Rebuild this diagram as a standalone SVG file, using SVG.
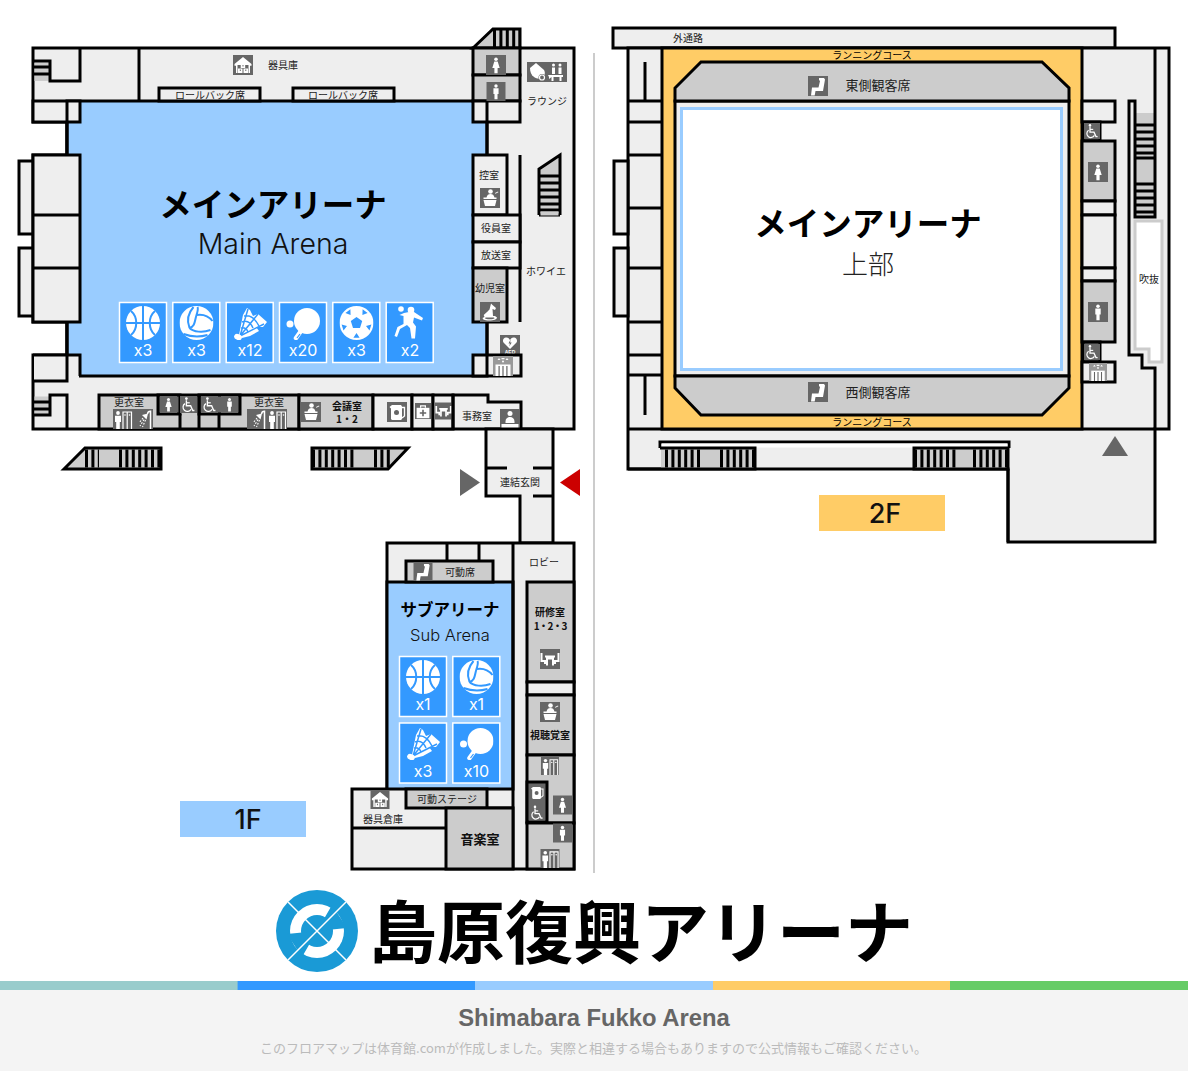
<svg xmlns="http://www.w3.org/2000/svg" width="1188" height="1071" viewBox="0 0 1188 1071">
<style>
.w{fill:none;stroke:#000;stroke-width:3}
.f{fill:#eee;stroke:#000;stroke-width:3}
.g{fill:#ccc;stroke:#000;stroke-width:3}
.d{fill:#666;stroke:#000;stroke-width:3}
.b{fill:#9cf;stroke:#000;stroke-width:3}
.y{fill:#fc6;stroke:#000;stroke-width:3}
.bar{fill:none;stroke:#000;stroke-width:18;stroke-dasharray:3 3.4}
.t{font-family:"Noto Sans CJK JP",sans-serif;font-size:10px;fill:#222;text-anchor:middle}
.tb{font-family:"Noto Sans CJK JP",sans-serif;font-size:10px;font-weight:700;fill:#111;text-anchor:middle}
.h{font-family:"Noto Sans CJK JP",sans-serif;font-weight:700;fill:#000;text-anchor:middle}
.l{font-family:Inter,sans-serif;font-weight:300;fill:#111;text-anchor:middle}
.n{font-family:Inter,sans-serif;font-size:16px;font-weight:400;fill:#fff;text-anchor:middle}
.fl{font-family:Inter,sans-serif;font-size:27px;font-weight:500;fill:#111;text-anchor:middle}
.tile{fill:#39f;stroke:#fff;stroke-width:1.5}
.wh{fill:#fff}
.ws{fill:none;stroke:#fff}
.bg{fill:#666}
.bl{fill:none;stroke:#39f;stroke-width:2}
</style>
<defs>
<symbol id="i-m" viewBox="0 0 20 20"><rect class="bg" width="20" height="20"/><circle class="wh" cx="10" cy="4.2" r="1.8"/><path class="wh" d="M7.3 6.6h5.4v6h-1.1v5.6h-3.200v-5.600H7.300z"/></symbol>
<symbol id="i-f" viewBox="0 0 20 20"><rect class="bg" width="20" height="20"/><circle class="wh" cx="10" cy="4.2" r="1.8"/><path class="wh" d="M8.300 6.600h3.400l2 6.400h-2.100v5.200H8.400V13H6.300z"/></symbol>
<symbol id="i-wc" viewBox="0 0 20 20"><rect class="bg" width="20" height="20"/><circle class="wh" cx="7.500" cy="3" r="1.600"/><path class="ws" stroke-width="1.600" d="M7.500 5v6.500h5l2.500 5.500h2"/><path class="ws" stroke-width="1.500" d="M5.800 9A5 5 0 1 0 13 15.500"/><path class="ws" stroke-width="1.400" d="M7.500 8h4"/></symbol>
<symbol id="i-store" viewBox="0 0 20 20"><rect class="bg" width="20" height="20"/><path class="wh" d="M1.500 9 10 2l8.500 7v1.800H17V18H3V10.800H1.500z"/><path fill="#666" d="M4.500 10h11v8h-11z"/><path class="wh" d="M5 13.500h4.500V18H5zM10.500 13.500H15V18h-4.500zM7.700 9h4.500v4H7.700z"/><path fill="#666" d="M6.800 14.500h1v1.500h-1zM12.300 14.500h1v1.500h-1zM9.500 10h1v1.500h-1z"/></symbol>
<symbol id="i-seat" viewBox="0 0 20 20"><rect class="bg" width="20" height="20"/><path class="wh" d="M11 2h5l1 1.500-2 11.500H7.500l-.8 4.500H3l1-8h6.500l1.500-6.500-1-1z"/></symbol>
<symbol id="i-meet" viewBox="0 0 20 20"><rect class="bg" width="20" height="20"/><circle class="wh" cx="10.500" cy="3.500" r="2.300"/><path class="wh" d="M6.500 9.500c.5-2.500 2-3.500 4-3.500s3.500 1 4 3.500h2v1.500H3.500V9.500zM3.500 12h13l-1.500 6H5zM15 5l3-1.500.4.800-3 1.500z"/></symbol>
<symbol id="i-ev" viewBox="0 0 20 20"><rect fill="#999" width="20" height="20"/><path class="wh" d="M2.500 8.500h15V20h-15z"/><path fill="#666" d="M5.500 10h1.200v10H5.500zM9.400 10h1.200v10H9.400zM13.300 10h1.200v10h-1.200z"/><path class="wh" d="M4.500 4 6 2l1.500 2zM12.500 4 14 2l1.500 2zM8.500 2h3v1.200h-3z"/><circle class="wh" cx="10" cy="5.500" r="1"/></symbol>
<symbol id="i-shower" viewBox="0 0 20 20"><rect class="bg" width="20" height="20"/><path class="ws" stroke-width="1.500" d="M14.500 5a3 3 0 0 1 3-2.700V20"/><path class="wh" d="M9 6l6-1.500-1.500 6z"/><path class="ws" stroke-width="1.100" stroke-dasharray="1.700 1.500" d="M10 9 6 14M11 10.500 7 17M12.500 11 9.500 18"/></symbol>
<symbol id="i-change" viewBox="0 0 20 20"><rect class="bg" width="20" height="20"/><circle class="wh" cx="5" cy="4" r="1.900"/><path class="wh" d="M2 6.800h6v6.200H6.800v7H3.200v-7H2z"/><path class="ws" stroke-width="1.200" d="M10 20V3h8.500v17M14.200 3v17"/><circle class="wh" cx="12" cy="6" r=".8"/><circle class="wh" cx="16.500" cy="6" r=".8"/></symbol>
<symbol id="i-kettle" viewBox="0 0 20 20"><rect class="bg" width="20" height="20"/><path class="wh" d="M5 3h9l1 1.500v12.500l-1 1H5l-1-1V6.500L2.500 5z"/><path class="ws" stroke-width="1.300" d="M15 5.500h2.500V14L15 16"/><circle fill="#666" cx="9.500" cy="10.500" r="2.500"/></symbol>
<symbol id="i-aid" viewBox="0 0 20 20"><rect class="bg" width="20" height="20"/><path class="ws" stroke-width="1.500" d="M7 6V3.500h6V6"/><path class="wh" d="M2 6h16v13H2z"/><path fill="#666" d="M9 8.500h2v3h3v2h-3v3H9v-3H6v-2h3z"/></symbol>
<symbol id="i-table" viewBox="0 0 20 20"><rect class="bg" width="20" height="20"/><path class="ws" stroke-width="2" d="M1.500 4v8h3.500v3M18.500 4v8H15v3"/><path class="wh" d="M5 6.500h10v2h-1v8h-2v-6H8v6H6v-8H5z"/></symbol>
<symbol id="i-rec" viewBox="0 0 20 20"><rect class="bg" width="20" height="20"/><circle class="wh" cx="10" cy="4.500" r="2.500"/><path class="wh" d="M5.500 12.500c0-3 2-4.500 4.500-4.500s4.500 1.500 4.500 4.500V14h-9zM1.500 15h17v5h-17z"/></symbol>
<symbol id="i-aed" viewBox="0 0 20 20"><rect class="bg" width="20" height="20"/><path class="wh" d="M10 14 3.500 7.500C2 5 4 2 6.500 2.500 8 2.700 9.500 3.800 10 5c.5-1.200 2-2.300 3.500-2.500 2.500-.5 4.500 2.500 3 5z"/><path fill="#666" d="M10.500 4.500 8.500 8.500h1.500l-.8 3 2.500-4h-1.500z"/></symbol>
<symbol id="i-horse" viewBox="0 0 20 20"><rect class="bg" width="20" height="20"/><path class="wh" d="M11 1.500l1.500 1.500 3.500 3-1 2-2.500-1 .5 7h2l2 1.500c-.2 2-3 3-8 3s-6-1-6.500-2.500L4.500 15l-.8-2 3.300-3 2.500-2.500z"/><path fill="#666" d="M5 16.500c1.500 1 6 1.200 9.500 0l-.5-1H5.500z"/></symbol>
<symbol id="i-lounge" viewBox="0 0 40 20"><rect class="bg" width="40" height="20"/><path class="wh" d="M3 6 9 1l8 7c2 3 0 7-2 8-3 1-5 1-8-1-3-2-4-6-4-9z"/><circle fill="#666" cx="15" cy="15.500" r="3.500"/><circle class="ws" cx="15" cy="15.500" r="2.500" stroke-width="1.200"/><circle class="wh" cx="26.500" cy="3" r="1.500"/><circle class="wh" cx="33" cy="3" r="1.500"/><path class="wh" d="M25 5.500h3v6.500H25zM31.500 5.500h3v6.500h-3zM21 13h15v2h-1.500v4h-2v-4h-6v4H24.500v-4l-2.500 2v-2z"/><path fill="#666" d="M29 5.500h1.500V12H29z"/></symbol>
<symbol id="s-bb" viewBox="-17 -17 34 34"><circle class="wh" r="17"/><path class="bl" d="M0-17V17M-17 0H17M-12-12C-5-6-5 6-12 12M12-12C5-6 5 6 12 12"/></symbol>
<symbol id="s-vb" viewBox="-17 -17 34 34"><circle class="wh" r="17"/><path class="bl" d="M-3-16C-10-8-9 0-7 5M-7 5C-3 9 6 10 14 7M-13 11C-5 14 4 14 11 12M0-8C6-9 12-7 16-2M0-8C-2-2-1 3-7 5M0-8C1-11 2-14 1-16"/></symbol>
<symbol id="s-sh" viewBox="-17 -17 34 34"><path class="wh" d="M-11 12-7-8-3-15 0-13 3-7 8-9 17-1 13 4 6 4 9 8 0 13-8 15z"/><path class="bl" style="stroke-width:1.500" d="M-10 13-2-14M-10 13 8-9M-10 13 14 1M-8-1Q-1-4 3 5M-6-7Q3-9 9 3M-9 5Q-4 4-2 9"/><ellipse class="wh" cx="-12" cy="14" rx="4" ry="3" transform="rotate(20 -12 14)"/></symbol>
<symbol id="s-tt" viewBox="-17 -17 34 34"><circle class="wh" cx="-13" cy="1" r="3.500"/><circle class="wh" cx="4" cy="-2" r="13"/><path fill="none" stroke="#fff" stroke-width="4.500" stroke-linecap="round" d="M-2 8-7 15"/><path fill="none" stroke="#39f" stroke-width="1.200" d="M-3 11-6 15"/></symbol>
<symbol id="s-sc" viewBox="-17 -17 34 34"><circle class="wh" r="17"/><path fill="#39f" d="M0-6 5.700-1.900 3.500 4.900h-7L-5.700-1.900zM5.900-8.100 6.100-13.700 11.100-10zM9.500 3.100 14.900 1.600 13 7.500zM0 10 3.100 14.700H-3.100zM-9.500 3.100-14.900 1.600-13 7.500zM-5.900-8.100-6.100-13.700-11.100-10z"/></symbol>
<symbol id="s-hb" viewBox="-17 -17 34 34"><circle class="wh" cx="-9" cy="-14" r="2.800"/><circle class="wh" cx="1" cy="-13" r="3.300"/><path class="wh" d="M-6-10l5-1 5 0 9 6-1 2.500-8-3-1 5 3 4-1 12h-3.500L0 5-3 2l-7 4-3 8-2.500-1 3-9 6-3 0-8-4-1z"/></symbol>
</defs>

<g id="floor-1f-main">
<path class="f" d="M33 48H574V429H33V355H67V322H33V155H67V122H33z"/>
<rect class="f" x="19" y="161" width="14" height="73"/>
<rect class="f" x="19" y="248" width="14" height="68"/>
<rect class="b" x="67" y="101" width="420" height="275"/>
<rect class="f" x="33" y="101" width="47" height="21"/>
<path class="w" d="M67 101V155"/>
<rect class="f" x="33" y="155" width="47" height="167"/>
<path class="w" d="M33 215H80M33 268H80M67 322V355"/>
<rect fill="#eee" x="34" y="356" width="45" height="25"/>
<rect fill="#eee" x="68" y="375" width="11" height="5"/>
<path class="w" d="M33 355H80V376M33 381H67V355"/>
<path fill="#ccc" d="M34.500 62.500H49V81H34.500z"/>
<path class="w" d="M80 48V81H50V61H33M34 67H50M34 74H50M139 48V101"/>
<rect class="f" x="159" y="88" width="101" height="13"/>
<rect class="f" x="293" y="88" width="101" height="13"/>
<text class="t" x="210" y="99">ロールバック席</text>
<text class="t" x="343" y="99">ロールバック席</text>
<use href="#i-store" x="233" y="55" width="20" height="20"/>
<text class="t" x="283" y="69">器具庫</text>
</g>
<g id="stairs-1f">
<path class="g" d="M473 48 493 29H520V48z"/>
<line class="bar" x1="493" y1="38" x2="520" y2="38"/>
<path class="g" d="M539 215V169L560 155V215"/>
<path class="w" d="M539 215H560M539 176H560M539 183H560M539 190H560M539 197H560M539 204H560M539 210H560"/>
<path fill="#ccc" d="M540.500 211.500h18v4h-18z"/>
<path class="g" d="M64 469 85 448H161V469z"/>
<line class="bar" x1="85" y1="458.500" x2="99" y2="458.500"/>
<line class="bar" x1="119" y1="458.500" x2="161" y2="458.500"/>
<path class="g" d="M312 448H408L388 469H312z"/>
<line class="bar" x1="312" y1="458.500" x2="354" y2="458.500"/>
<line class="bar" x1="374" y1="458.500" x2="393" y2="458.500"/>
</g>
<g id="rooms-1f-right">
<rect class="g" x="473" y="48" width="47" height="27"/>
<rect class="g" x="473" y="75" width="47" height="26"/>
<rect class="f" x="473" y="101" width="47" height="21"/>
<path class="w" d="M487 101V155"/>
<use href="#i-f" x="486" y="55" width="20" height="20"/>
<use href="#i-m" x="486" y="82" width="20" height="19"/>
<use href="#i-lounge" x="527" y="62" width="40" height="20"/>
<text class="t" x="547" y="105">ラウンジ</text>
<rect class="f" x="473" y="155" width="34" height="60"/>
<path class="w" d="M520 155V322"/>
<rect class="f" x="473" y="215" width="47" height="27"/>
<rect class="f" x="473" y="242" width="47" height="26"/>
<rect class="g" x="473" y="268" width="34" height="54"/>
<path class="w" d="M487 322V355"/>
<text class="t" x="489" y="179">控室</text>
<use href="#i-meet" x="480" y="188" width="20" height="20"/>
<text class="t" x="496" y="232">役員室</text>
<text class="t" x="496" y="259">放送室</text>
<text class="t" x="490" y="292">幼児室</text>
<use href="#i-horse" x="480" y="302" width="20" height="20"/>
<text class="t" x="546" y="275">ホワイエ</text>
<use href="#i-aed" x="500" y="335" width="20" height="20"/>
<text x="510" y="354" font-family="Liberation Sans,sans-serif" font-size="5" font-weight="700" fill="#fff" text-anchor="middle">AED</text>
<rect class="f" x="473" y="355" width="48" height="21"/>
<path class="w" d="M487 355V376"/>
<use href="#i-ev" x="493" y="356" width="20" height="20"/>
</g>
<g id="arena-main-1f">
<text class="h" x="273" y="217" font-size="32.500">メインアリーナ</text>
<text class="l" x="273" y="254" font-size="28.500">Main Arena</text>
<rect class="tile" x="119.500" y="302.500" width="47" height="60"/><use href="#s-bb" x="126" y="306" width="34" height="34"/><text class="n" x="143" y="356">x3</text>
<rect class="tile" x="172.800" y="302.500" width="47" height="60"/><use href="#s-vb" x="179.500" y="306" width="34" height="34"/><text class="n" x="196.500" y="356">x3</text>
<rect class="tile" x="226.200" y="302.500" width="47" height="60"/><use href="#s-sh" x="233" y="306" width="34" height="34"/><text class="n" x="250" y="356">x12</text>
<rect class="tile" x="279.500" y="302.500" width="47" height="60"/><use href="#s-tt" x="286" y="306" width="34" height="34"/><text class="n" x="303" y="356">x20</text>
<rect class="tile" x="332.800" y="302.500" width="47" height="60"/><use href="#s-sc" x="339.500" y="306" width="34" height="34"/><text class="n" x="356.500" y="356">x3</text>
<rect class="tile" x="386.200" y="302.500" width="47" height="60"/><use href="#s-hb" x="393" y="306" width="34" height="34"/><text class="n" x="410" y="356">x2</text>
</g>
<g id="rooms-1f-bottom">
<path fill="#ccc" d="M34.500 396.500H49V414H34.500z"/>
<path class="w" d="M34 402H50M34 409H50M34 415H50V395H67V429"/>
<rect class="g" x="99" y="395" width="200" height="34"/>
<path class="d" d="M158 395V414H180V395zM199 395V414H240V395z"/>
<path class="w" d="M180 414V429M199 395V429M219 414V429"/>
<use href="#i-change" x="113" y="409" width="20" height="20"/>
<use href="#i-shower" x="133" y="409" width="20" height="20"/>
<use href="#i-f" x="160" y="396" width="17" height="17"/>
<use href="#i-wc" x="180" y="396" width="17" height="17"/>
<use href="#i-wc" x="201" y="396" width="17" height="17"/>
<use href="#i-m" x="221" y="396" width="17" height="17"/>
<use href="#i-shower" x="247" y="409" width="20" height="20"/>
<use href="#i-change" x="267" y="409" width="20" height="20"/>
<text class="t" x="129" y="406">更衣室</text>
<text class="t" x="269" y="406">更衣室</text>
<rect class="g" x="299" y="395" width="74" height="34"/>
<use href="#i-meet" x="301" y="402" width="20" height="20"/>
<text class="tb" x="347" y="410">会議室</text>
<text class="tb" x="347" y="423">1・2</text>
<rect class="f" x="373" y="395" width="39" height="34"/>
<use href="#i-kettle" x="387" y="402" width="20" height="20"/>
<rect class="f" x="412" y="395" width="21" height="34"/>
<use href="#i-aid" x="415" y="402" width="16" height="18"/>
<rect class="f" x="433" y="395" width="20" height="34"/>
<use href="#i-table" x="435" y="402" width="17" height="18"/>
<path class="w" d="M453 429V395H488V402H521V429"/>
<text class="t" x="477" y="420">事務室</text>
<use href="#i-rec" x="500" y="409" width="20" height="20"/>
</g>
<g id="entrance">
<path class="f" d="M486 429H553V543H520V496H486z"/>
<path class="w" d="M486 468H507M533 468H553M533 496H553"/>
<text class="t" x="520" y="486">連結玄関</text>
<path fill="#666" d="M460 469 480 482.500 460 496z"/>
<path fill="#c00" d="M580 469 560 482.500 580 496z"/>
</g>
<g id="floor-1f-sub">
<path class="f" d="M387 543H574V869H352V789H387z"/>
<rect class="b" x="387" y="582" width="126" height="207"/>
<path class="w" d="M447 543V561M479 543V561M513 543V582"/>
<rect class="g" x="406" y="561" width="87" height="21"/>
<use href="#i-seat" x="413" y="562" width="20" height="19"/>
<text class="t" x="460" y="576">可動席</text>
<text class="t" x="544" y="566">ロビー</text>
<text class="h" x="450" y="616" font-size="16.500">サブアリーナ</text>
<text class="l" x="450" y="641" font-size="16.500">Sub Arena</text>
<rect class="tile" x="399.500" y="656.500" width="47" height="60"/><use href="#s-bb" x="406" y="660" width="34" height="34"/><text class="n" x="423" y="710">x1</text>
<rect class="tile" x="452.800" y="656.500" width="47" height="60"/><use href="#s-vb" x="459.500" y="660" width="34" height="34"/><text class="n" x="476.500" y="710">x1</text>
<rect class="tile" x="399.500" y="723" width="47" height="60"/><use href="#s-sh" x="406" y="726" width="34" height="34"/><text class="n" x="423" y="777">x3</text>
<rect class="tile" x="452.800" y="723" width="47" height="60"/><use href="#s-tt" x="459.500" y="726" width="34" height="34"/><text class="n" x="476.500" y="777">x10</text>
<rect class="g" x="527" y="582" width="47" height="100"/>
<text class="tb" x="550" y="616">研修室</text>
<text class="tb" x="550" y="630" letter-spacing="-1">1・2・3</text>
<use href="#i-table" x="540" y="649" width="20" height="20"/>
<rect class="f" x="527" y="682" width="47" height="13"/>
<rect class="g" x="527" y="695" width="47" height="60"/>
<use href="#i-meet" x="540" y="702" width="20" height="20"/>
<text class="tb" x="550" y="739">視聴覚室</text>
<rect class="g" x="527" y="755" width="47" height="68"/>
<use href="#i-change" x="540" y="757" width="20" height="18"/>
<rect class="d" x="527" y="782" width="20" height="40"/>
<use href="#i-kettle" x="529" y="784" width="16" height="17"/>
<use href="#i-wc" x="529" y="804" width="16" height="17"/>
<use href="#i-f" x="553" y="795" width="19" height="20"/>
<rect class="g" x="527" y="823" width="47" height="46"/>
<use href="#i-m" x="553" y="823" width="19" height="20"/>
<use href="#i-change" x="540" y="849" width="20" height="19"/>
<path class="w" d="M513 582V869"/>
<rect class="g" x="406" y="789" width="81" height="19"/>
<path class="w" d="M487 808H513"/>
<rect class="g" x="446" y="808" width="67" height="61"/>
<path class="w" d="M352 828H446"/>
<use href="#i-store" x="370" y="790" width="20" height="19"/>
<text class="t" x="383" y="823">器具倉庫</text>
<text class="t" x="447" y="803">可動ステージ</text>
<text class="tb" x="480" y="844" style="font-size:13px">音楽室</text>
<rect fill="#9cf" x="180" y="801" width="126" height="36"/>
<text class="fl" x="248" y="829">1F</text>
</g>
<line id="divider" x1="594" y1="53" x2="594" y2="873" stroke="#ccc" stroke-width="2"/>
<g id="floor-2f">
<rect class="f" x="613" y="28" width="502" height="20"/>
<text class="t" x="688" y="42">外通路</text>
<path class="f" d="M628 48H1169V429H1155V542H1008V469H628z"/>
<path class="w" d="M628 429H1155"/>
<rect class="f" x="614" y="161" width="14" height="73"/>
<rect class="f" x="614" y="248" width="14" height="68"/>
<path class="w" d="M628 101H662M628 122H662M628 155H662M628 208H662M628 268H662M628 322H662M628 355H662M628 375H662M645 62V101M645 376V415"/>
<rect class="y" x="662" y="48" width="420" height="381"/>
<rect x="675" y="101" width="394" height="275" fill="#eee" stroke="#000" stroke-width="3"/>
<rect x="681.500" y="108.500" width="380" height="261" fill="#fff" stroke="#9cf" stroke-width="3"/>
<path class="g" d="M675 101V88L701 62H1042L1069 88V101z"/>
<path class="g" d="M675 376V388L701 415H1042L1069 388V376z"/>
<use href="#i-seat" x="808" y="76" width="20" height="20"/>
<use href="#i-seat" x="808" y="382" width="20" height="20"/>
<text class="t" x="878" y="90" style="font-size:13px">東側観客席</text>
<text class="t" x="878" y="397" style="font-size:13px">西側観客席</text>
<text class="t" x="872" y="59" style="fill:#000">ランニングコース</text>
<text class="t" x="872" y="426" style="fill:#000">ランニングコース</text>
<text class="h" x="868" y="236" font-size="32.500">メインアリーナ</text>
<text class="t" x="868" y="274" style="font-size:26px;font-weight:300">上部</text>
<rect fill="#fff" x="658" y="443" width="352" height="4"/>
<path class="w" d="M660 448V442H1009V448"/>
<path fill="#fff" d="M661.500 443.500H1007.500V447.500H661.500z"/>
<path fill="#ccc" d="M661 448H755V469H661z"/>
<path class="w" d="M660 448H755V469H628"/>
<line class="bar" x1="665" y1="458.500" x2="703" y2="458.500"/>
<line class="bar" x1="720" y1="458.500" x2="755" y2="458.500"/>
<rect class="g" x="914" y="448" width="94" height="21"/>
<line class="bar" x1="914" y1="458.500" x2="957" y2="458.500"/>
<line class="bar" x1="973" y1="458.500" x2="1008" y2="458.500"/>
<path class="w" d="M1008 469V542"/>
<path fill="#666" d="M1115 436 1128 456H1102z"/>
<rect fill="#fc6" x="819" y="495" width="126" height="36"/>
<text class="fl" x="885" y="523">2F</text>
<rect class="f" x="1082" y="101" width="33" height="21"/>
<rect class="d" x="1083" y="122" width="17" height="19"/>
<use href="#i-wc" x="1084" y="122" width="16" height="18"/>
<rect class="g" x="1082" y="141" width="33" height="60"/>
<use href="#i-f" x="1088" y="162" width="20" height="20"/>
<rect class="f" x="1082" y="201" width="33" height="14"/>
<rect class="f" x="1082" y="215" width="33" height="53"/>
<rect class="f" x="1082" y="268" width="33" height="13"/>
<rect class="g" x="1082" y="281" width="33" height="61"/>
<use href="#i-m" x="1088" y="302" width="20" height="20"/>
<rect class="d" x="1083" y="342" width="17" height="20"/>
<use href="#i-wc" x="1084" y="343" width="16" height="18"/>
<rect class="f" x="1082" y="362" width="33" height="20"/>
<use href="#i-ev" x="1089" y="363" width="18" height="18"/>
<path fill="#ccc" d="M1136 113H1155V217H1136z"/>
<path class="w" d="M1155 48V217H1135V101H1129V355H1142V368H1155V429"/>
<path class="w" d="M1136 125H1155M1136 132H1155M1136 139H1155M1136 146H1155M1136 153H1155M1136 158H1155M1136 184H1155M1136 191H1155M1136 198H1155M1136 205H1155M1136 212H1155"/>
<path d="M1135 221H1162V362H1149V349H1135z" fill="#fff" stroke="#ccc" stroke-width="3"/>
<text class="t" x="1149" y="283">吹抜</text>
</g>
<g id="logo">
<circle cx="317" cy="931" r="41" fill="#1a9ad6"/>
<circle cx="317" cy="931" r="27" fill="#fff"/>
<circle cx="317" cy="931" r="16" fill="#1a9ad6"/>
<path fill="#1a9ad6" d="M317 931 332 905 347 928zM317 931 302 957 287 934z"/>
<path stroke="#fff" stroke-width="1.500" d="M288 902 346 960M346 902 288 960"/>
</g>
<text id="title" class="h" x="641" y="958" font-size="68" font-weight="900">島原復興アリーナ</text>
<g id="footer">
<rect x="0" y="981" width="238" height="9" fill="#9cc"/>
<rect x="237.600" y="981" width="238" height="9" fill="#39f"/>
<rect x="475" y="981" width="238" height="9" fill="#9cf"/>
<rect x="713" y="981" width="238" height="9" fill="#fc6"/>
<rect x="950" y="981" width="238" height="9" fill="#6c6"/>
<rect x="0" y="990" width="1188" height="81" fill="#f4f4f4"/>
<text x="594" y="1026" font-family="Liberation Sans,sans-serif" font-size="23.800" font-weight="700" fill="#666" text-anchor="middle">Shimabara Fukko Arena</text>
<text x="593.500" y="1053" font-family="Noto Sans CJK JP,sans-serif" font-size="13" fill="#bbb" text-anchor="middle">このフロアマップは体育館.comが作成しました。実際と相違する場合もありますので公式情報もご確認ください。</text>
</g>
</svg>
